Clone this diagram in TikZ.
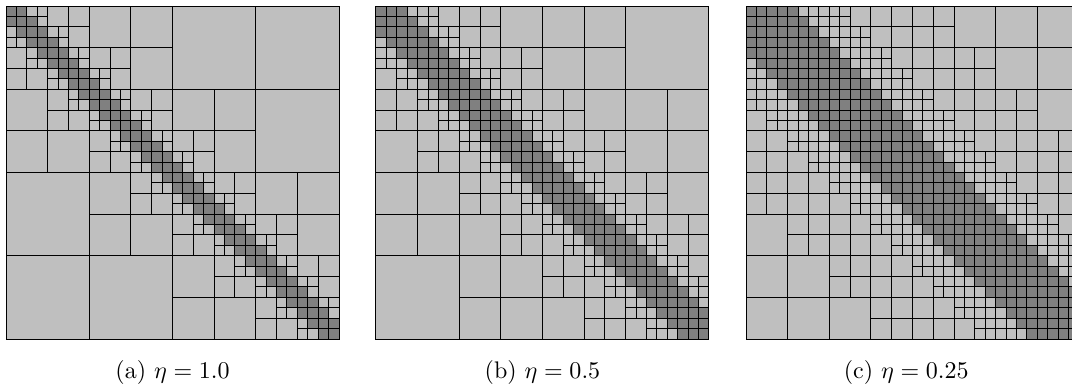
\documentclass[tikz,border=0pt]{standalone}

% block (row, col, size, eta): admissible if size <= eta*dist, else split
\newcommand\hblock[4]{%
  \begingroup
  \pgfmathtruncatemacro\hgap{max(0,abs(#1-#2)-#3)}%
  \pgfmathtruncatemacro\hadm{(#3<=#4*\hgap)?1:0}%
  \ifnum\hadm=1
    \draw[lowrank] (#2,-#1) rectangle ++(#3,-#3);%
  \else
    \ifnum#3=1
      \draw[fullrank] (#2,-#1) rectangle ++(1,-1);%
    \else
      \pgfmathtruncatemacro\hhalf{#3/2}%
      \pgfmathtruncatemacro\hrm{#1+\hhalf}%
      \pgfmathtruncatemacro\hcm{#2+\hhalf}%
      \edef\hsub{%
        \noexpand\hblock{#1}{#2}{\hhalf}{#4}%
        \noexpand\hblock{#1}{\hcm}{\hhalf}{#4}%
        \noexpand\hblock{\hrm}{#2}{\hhalf}{#4}%
        \noexpand\hblock{\hrm}{\hcm}{\hhalf}{#4}}%
      \hsub
    \fi
  \fi
  \endgroup}

\begin{document}
\begin{tikzpicture}[
  x=4.336pt, y=4.336pt, line width=0.4pt,
  lowrank/.style={draw=black,fill=lightgray},
  fullrank/.style={draw=black,fill=gray}
]
\useasboundingbox (0,0) rectangle (103.02,-37.0);

\begin{scope}[shift={(0.577,-0.577)}]
  \hblock{0}{0}{32}{1.0}
  \node[anchor=base] (capa) at (16,-35.75) {(a) $\eta = 1.0$};
\end{scope}

\begin{scope}[shift={(36.13,-0.577)}]
  \hblock{0}{0}{32}{0.5}
  \node[anchor=base] (capb) at (16,-35.75) {(b) $\eta = 0.5$};
\end{scope}

\begin{scope}[shift={(71.69,-0.577)}]
  \hblock{0}{0}{32}{0.25}
  \node[anchor=base] (capc) at (15.4,-35.75) {(c) $\eta = 0.25$};
\end{scope}
\end{tikzpicture}
\end{document}
